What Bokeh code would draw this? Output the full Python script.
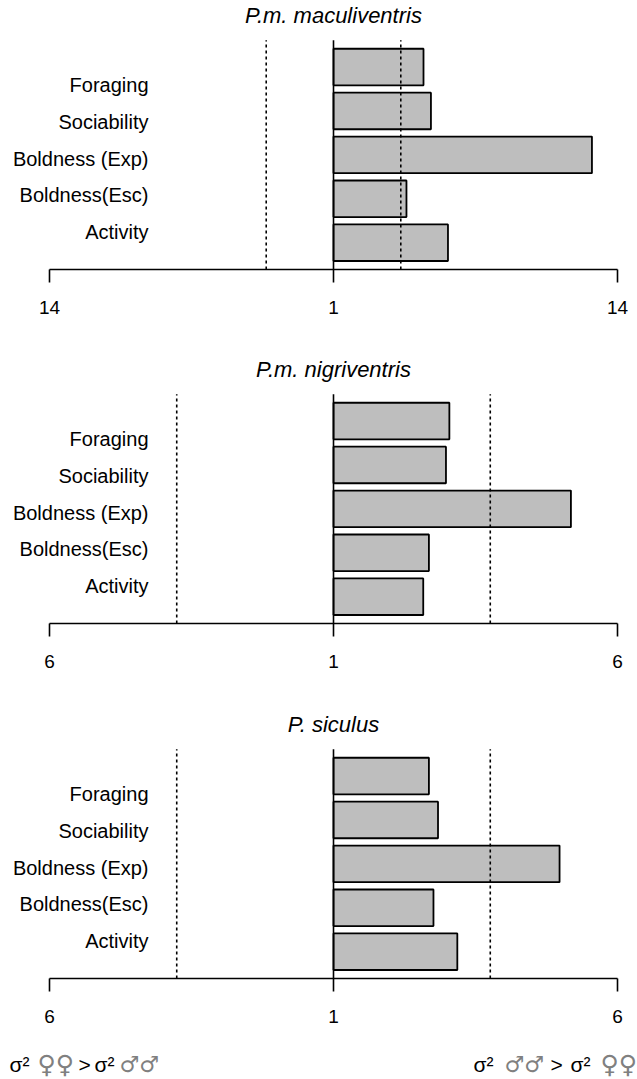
from bokeh.plotting import figure
from bokeh.models import Range1d, FixedTicker, ColumnDataSource
from bokeh.layouts import column
from bokeh.embed import file_html
from bokeh.resources import INLINE
from bokeh.core.properties import value

# ---- data (traits listed bottom to top) ----
traits = ["Activity", "Boldness(Esc)", "Boldness (Exp)", "Sociability", "Foraging"]
titles = ["P.m. maculiventris", "P.m. nigriventris", "P. siculus"]
axis_max = [14, 6, 6]
ratio_maculiventris = [6.24, 4.34, 12.83, 5.46, 5.12]
ratio_nigriventris = [2.58, 2.68, 5.18, 2.98, 3.04]
ratio_siculus = [3.18, 2.76, 4.98, 2.84, 2.68]
thresholds = [4.08, 3.76, 3.76]
footer_left = ["σ²", "♀♀", ">", "σ²", "♂♂"]
footer_right = ["σ²", "♂♂", ">", "σ²", "♀♀"]

ratios = [ratio_maculiventris, ratio_nigriventris, ratio_siculus]

FONT = "Liberation Sans"
W = 637
AX_L, AX_R = 49, 617          # axis ends in canvas px
PX_UNIT = 36.6                # px per bar unit
Y0 = -0.032
PLOT_TOP = 6.232

figs = []
heights = [355, 354, 325]
frame_h = [269, 268, 269]
for idx in range(3):
    R = axis_max[idx] - 1
    k = (AX_R - AX_L) / (2 * R)
    x0 = -R - AX_L / k
    x1 = R + (W - AX_R) / k
    fh = frame_h[idx]
    y1 = Y0 + fh / PX_UNIT
    h = heights[idx]
    p = figure(width=W, height=h, x_range=Range1d(x0, x1), y_range=Range1d(Y0, y1),
               toolbar_location=None, output_backend="svg", y_axis_location=None,
               min_border_left=0, min_border_right=0, min_border_top=0,
               min_border_bottom=h - fh)
    p.outline_line_color = None
    p.xgrid.visible = False
    p.ygrid.visible = False
    ax = p.xaxis[0]
    ax.ticker = FixedTicker(ticks=[-R, 0, R])
    ax.major_label_overrides = {-R: str(axis_max[idx]), 0: "1", R: str(axis_max[idx])}
    ax.bounds = (-R, R)
    ax.axis_line_color = "black"
    ax.axis_line_width = 1.6
    ax.major_tick_line_color = "black"
    ax.major_tick_line_width = 1.6
    ax.major_tick_out = 13
    ax.major_tick_in = 0
    ax.minor_tick_out = 0
    ax.minor_tick_in = 0
    ax.major_label_standoff = 18
    ax.major_label_text_font = FONT
    ax.major_label_text_font_size = "19px"
    ax.major_label_text_color = "black"

    centers = [0.7 + 1.2 * i for i in range(len(traits))]
    src = ColumnDataSource(dict(
        left=[0] * len(traits),
        right=[r - 1 for r in ratios[idx]],
        bottom=[c - 0.5 for c in centers],
        top=[c + 0.5 for c in centers],
    ))
    p.quad(left="left", right="right", bottom="bottom", top="top", source=src,
           fill_color="#BEBEBE", line_color="black", line_width=1.8)

    t = thresholds[idx] - 1
    p.segment(x0=[-t, t], y0=[Y0, Y0], x1=[-t, t], y1=[PLOT_TOP, PLOT_TOP],
              line_color="black", line_width=1.6, line_dash="3 3")
    p.segment(x0=[0], y0=[Y0], x1=[0], y1=[PLOT_TOP], line_color="black", line_width=1.6)

    lab_x = -R + (148 - AX_L) / k
    p.text(x=[lab_x] * len(traits), y=[i + 1 for i in range(len(traits))], text=traits,
           text_align="right", text_baseline="middle", text_font=value(FONT),
           text_font_size="20px", text_color="black")

    title_y = Y0 + 254.0 / PX_UNIT
    p.text(x=[0], y=[title_y], text=[titles[idx]], text_align="center",
           text_baseline="middle", text_font=value(FONT), text_font_size="22px",
           text_font_style="italic", text_color="black")
    figs.append(p)

# footer
FH = 1079 - sum(heights)
f = figure(width=W, height=FH, x_range=Range1d(0, W), y_range=Range1d(0, FH),
           toolbar_location=None, output_backend="svg", x_axis_location=None,
           y_axis_location=None, min_border=0)
f.outline_line_color = None
f.xgrid.visible = False
f.ygrid.visible = False
mid = 15
left_x = [9, 37, 78, 94, 119]
right_x = [473, 504, 550, 570, 600]
colors = ["black", "#808080", "black", "black", "#808080"]
fonts = [FONT, "DejaVu Sans", FONT, FONT, "DejaVu Sans"]
sizes_l = ["21px", "25px", "21px", "21px", "22px"]
sizes_r = ["21px", "22px", "21px", "21px", "25px"]
for i in range(5):
    f.text(x=[left_x[i]], y=[mid], text=[footer_left[i]], text_align="left",
           text_baseline="middle", text_font=value(fonts[i]),
           text_font_size=sizes_l[i], text_color=colors[i])
    f.text(x=[right_x[i]], y=[mid], text=[footer_right[i]], text_align="left",
           text_baseline="middle", text_font=value(fonts[i]),
           text_font_size=sizes_r[i], text_color=colors[i])
figs.append(f)

layout = column(*figs, spacing=0)
open("out.html", "w").write(file_html(layout, INLINE))
